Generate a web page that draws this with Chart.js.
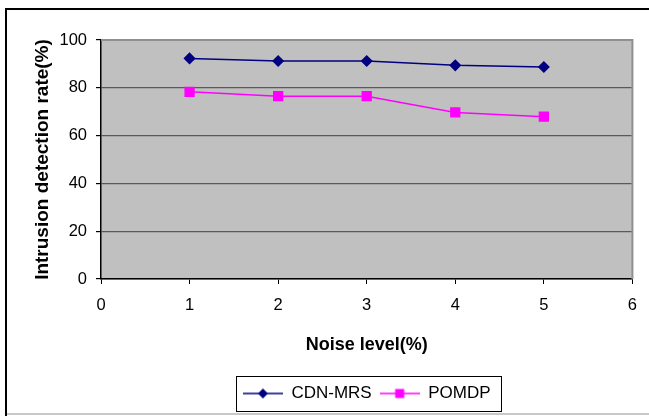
<!DOCTYPE html>
<html>
<head>
<meta charset="utf-8">
<script src="https://cdn.jsdelivr.net/npm/chart.js@4"></script>
<style>
  html, body { margin: 0; padding: 0; background: #fff; }
  #wrap { width: 649px; height: 416px; }
</style>
</head>
<body>
<div id="wrap"><canvas id="myChart" width="649" height="416"></canvas></div>
<script>
const noiseLevels = [1, 2, 3, 4, 5];
const cdnMrs = [92.3, 91.2, 91.2, 89.4, 88.7];
const pomdp = [78.3, 76.5, 76.5, 69.7, 67.9];
const xTicks = [0, 1, 2, 3, 4, 5, 6];
const yTicks = [0, 20, 40, 60, 80, 100];

const FONT = "'Liberation Sans', Arial, sans-serif";

// little line+marker pictures for the legend
function legendIcon(color, style) {
  const c = document.createElement('canvas');
  c.width = 40; c.height = 14;
  const g = c.getContext('2d');
  g.strokeStyle = color;
  g.lineWidth = 1.5;
  g.beginPath(); g.moveTo(0, 7); g.lineTo(40, 7); g.stroke();
  g.fillStyle = color;
  if (style === 'diamond') {
    g.beginPath(); g.moveTo(20, 2); g.lineTo(25, 7); g.lineTo(20, 12); g.lineTo(15, 7); g.closePath(); g.fill();
  } else {
    g.fillRect(15.5, 2.5, 9, 9);
  }
  return c;
}
const icons = [legendIcon('#000080', 'diamond'), legendIcon('#ff00ff', 'square')];

const frame = {
  id: 'frame',
  afterLayout(chart) {
    // center the legend under the plot area, not the whole canvas
    const lg = chart.legend;
    lg.left = chart.chartArea.left;
    lg.right = chart.chartArea.right;
  },
  beforeDraw(chart) {
    const {ctx, chartArea: a} = chart;
    ctx.save();
    // outer border
    ctx.strokeStyle = '#000';
    ctx.lineWidth = 2;
    ctx.beginPath(); ctx.moveTo(6, 416); ctx.lineTo(6, 9); ctx.lineTo(649, 9); ctx.stroke();
    ctx.strokeStyle = '#c8c8c8';
    ctx.lineWidth = 2;
    ctx.beginPath(); ctx.moveTo(7, 414); ctx.lineTo(649, 414); ctx.stroke();
    // plot area
    ctx.fillStyle = '#c0c0c0';
    ctx.fillRect(a.left, a.top, a.right - a.left, a.bottom - a.top);
    ctx.restore();
  },
  afterDraw(chart) {
    const {ctx, chartArea: a} = chart;
    ctx.save();
    ctx.strokeStyle = '#909090';
    ctx.lineWidth = 2;
    ctx.beginPath(); ctx.moveTo(a.left, a.top); ctx.lineTo(a.right, a.top); ctx.lineTo(a.right, a.bottom); ctx.stroke();
    // legend box
    const lg = chart.legend;
    const hb = lg.legendHitBoxes;
    if (hb && hb.length) {
      const l = hb[0].left - 7;
      const r = hb[hb.length - 1].left + hb[hb.length - 1].width + 10;
      ctx.strokeStyle = '#000';
      ctx.lineWidth = 1;
      ctx.strokeRect(Math.round(l) + 0.5, Math.round(lg.top) - 0.5, Math.round(r - l), Math.round(lg.bottom - lg.top));
    }
    ctx.restore();
  }
};

new Chart("myChart", {
  type: "line",
  data: {
    datasets: [{
      label: "CDN-MRS",
      data: noiseLevels.map((x, i) => ({x: x, y: cdnMrs[i]})),
      borderColor: "#000080",
      backgroundColor: "#000080",
      borderWidth: 1.5,
      pointStyle: 'rectRot',
      pointRadius: 5,
      pointHoverRadius: 5,
      lineTension: 0,
      fill: false
    }, {
      label: "POMDP",
      data: noiseLevels.map((x, i) => ({x: x, y: pomdp[i]})),
      borderColor: "#ff00ff",
      backgroundColor: "#ff00ff",
      borderWidth: 1.5,
      pointStyle: 'rect',
      pointRadius: 6.2,
      pointHoverRadius: 6.2,
      lineTension: 0,
      fill: false
    }]
  },
  plugins: [frame],
  options: {
    responsive: false,
    animation: false,
    layout: { padding: { top: 40, right: 16, left: 0, bottom: 4 } },
    plugins: {
      tooltip: { enabled: false },
      legend: {
        position: 'bottom',
        labels: {
          usePointStyle: true,
          pointStyleWidth: 40,
          padding: 8,
          color: '#000',
          font: { family: FONT, size: 17 },
          generateLabels: function (chart) {
            const items = Chart.defaults.plugins.legend.labels.generateLabels(chart);
            items.forEach((it, i) => { it.pointStyle = icons[i]; });
            return items;
          }
        }
      }
    },
    scales: {
      x: {
        type: 'linear',
        min: 0,
        max: 6,
        afterFit: s => { s.height = 98; },
        afterBuildTicks: s => { s.ticks = xTicks.map(v => ({value: v})); },
        grid: { drawOnChartArea: false, tickLength: 5, tickColor: '#000' },
        border: { color: '#000', width: 1.5 },
        ticks: { color: '#000', padding: 12, font: { family: FONT, size: 16.5 } },
        title: {
          display: true,
          text: 'Noise level(%)',
          color: '#000',
          padding: { top: 0, bottom: 21 },
          font: { family: FONT, size: 18, weight: 'bold' }
        }
      },
      y: {
        min: 0,
        max: 100,
        afterFit: s => { s.width = 101; },
        afterBuildTicks: s => { s.ticks = yTicks.map(v => ({value: v})); },
        grid: { color: '#5a5a5a', lineWidth: 1.2, tickLength: 5, tickColor: '#000' },
        border: { color: '#000', width: 1.5 },
        ticks: { color: '#000', padding: 9, font: { family: FONT, size: 16.5 } },
        title: {
          display: true,
          text: 'Intrusion detection rate(%)',
          color: '#000',
          padding: { top: 31, bottom: 0 },
          font: { family: FONT, size: 19, weight: 'bold' }
        }
      }
    }
  }
});
</script>
</body>
</html>
